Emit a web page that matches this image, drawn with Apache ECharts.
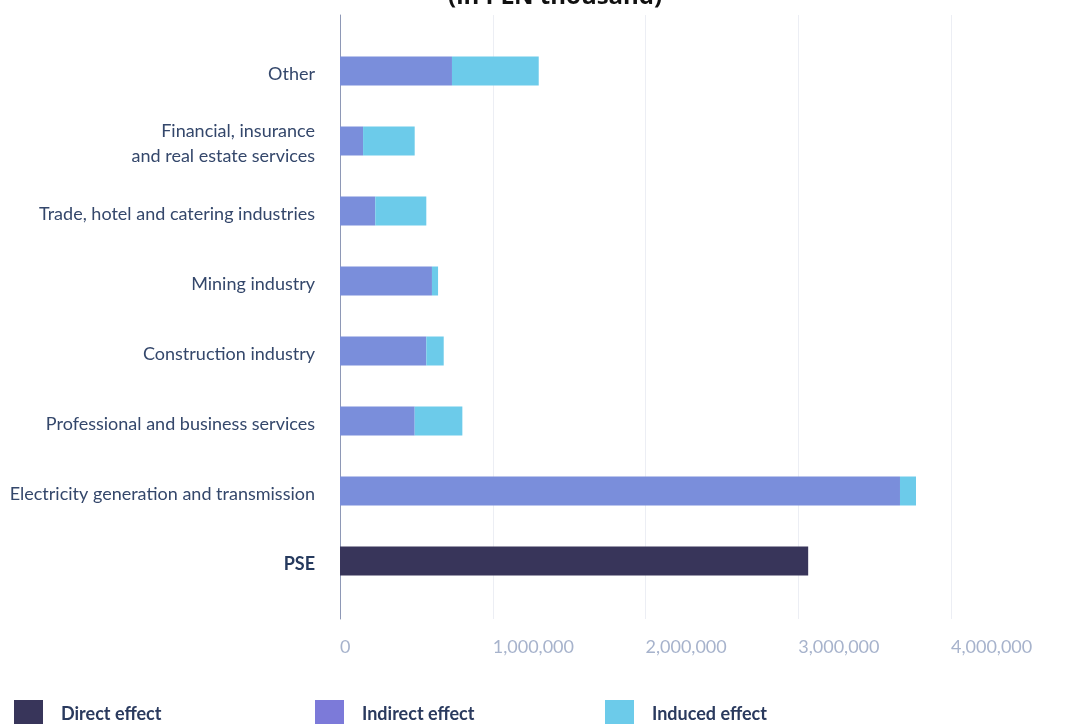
<!DOCTYPE html>
<html>
<head>
<meta charset="utf-8">
<title>Economic effects of PSE</title>
<script src="https://cdn.jsdelivr.net/npm/echarts@6/dist/echarts.min.js"></script>
<style>
  html, body { margin: 0; padding: 0; background: #ffffff; }
  #chart { width: 1091px; height: 724px; }
</style>
</head>
<body>
<div id="chart"></div>
<script>
// Sectors, listed top to bottom
const categories = [
  'Other',
  'Financial, insurance\nand real estate services',
  'Trade, hotel and catering industries',
  'Mining industry',
  'Construction industry',
  'Professional and business services',
  'Electricity generation and transmission',
  'PSE'
];

// Effects in PLN thousand
const directEffect   = [null, null, null, null, null, null, null, 3065000];
const indirectEffect = [733000, 151000, 231000, 602000, 565000, 489000, 3666000, null];
const inducedEffect  = [568000, 338000, 334000, 40000, 114000, 312000, 105000, null];

const xTicks = [0, 1000000, 2000000, 3000000, 4000000];
const seriesNames = ['Direct effect', 'Indirect effect', 'Induced effect'];

const colors = {
  direct: '#38355a',
  indirect: '#7a8edb',
  induced: '#6ccbea',
  legendIndirect: '#7c7ad9'
};

const labelFont = 'Lato, "Open Sans", sans-serif';
const fmt = v => v.toLocaleString('en-US');

const chart = echarts.init(document.getElementById('chart'), null, { renderer: 'canvas' });

function legendAt(left, name, color) {
  return {
    left: left,
    top: 700,
    padding: 0,
    icon: 'rect',
    itemWidth: 29,
    itemHeight: 29,
    itemGap: 0,
    selectedMode: false,
    data: [{ name: name, itemStyle: { color: color } }],
    textStyle: {
      fontFamily: labelFont,
      fontSize: 18,
      fontWeight: 'bold',
      color: '#2a3a5e',
      padding: [4, 0, 0, 13]
    }
  };
}

chart.setOption({
  animation: false,
  backgroundColor: '#ffffff',
  title: {
    text: '(in PLN thousand)',
    left: 448,
    top: -15,
    padding: 0,
    textStyle: {
      fontFamily: '"Open Sans", sans-serif',
      fontSize: 24,
      fontWeight: 'bold',
      color: '#111111'
    }
  },
  legend: [
    legendAt(14, seriesNames[0], colors.direct),
    legendAt(315, seriesNames[1], colors.legendIndirect),
    legendAt(605, seriesNames[2], colors.induced)
  ],
  grid: [
    // frame: gridlines, vertical axis line, tick labels
    { left: 340, right: 140, top: 15, height: 604 },
    // bars
    { left: 340, right: 140, top: 36, height: 560 }
  ],
  xAxis: [
    {
      gridIndex: 0,
      type: 'value',
      min: xTicks[0],
      max: xTicks[xTicks.length - 1],
      interval: xTicks[1] - xTicks[0],
      axisLine: { show: false },
      axisTick: { show: false },
      splitLine: { show: true, lineStyle: { color: '#eceef4', width: 1 } },
      axisLabel: {
        margin: 19,
        align: 'left',
        color: '#a7b3cc',
        fontFamily: labelFont,
        fontSize: 18,
        formatter: v => fmt(v)
      }
    },
    {
      gridIndex: 1,
      type: 'value',
      min: xTicks[0],
      max: xTicks[xTicks.length - 1],
      show: false
    }
  ],
  yAxis: [
    {
      gridIndex: 0,
      type: 'value',
      min: 0,
      max: 1,
      axisLine: { show: true, lineStyle: { color: '#8e98b6', width: 1 } },
      axisTick: { show: false },
      axisLabel: { show: false },
      splitLine: { show: false }
    },
    {
      gridIndex: 1,
      type: 'category',
      inverse: true,
      data: categories,
      axisLine: { show: false },
      axisTick: { show: false },
      axisLabel: {
        margin: 25,
        color: '#34476b',
        fontFamily: labelFont,
        fontSize: 18,
        lineHeight: 25,
        padding: [6, 0, 0, 0],
        formatter: v => v === 'PSE' ? '{b|' + v + '}' : v,
        rich: {
          b: { fontFamily: labelFont, fontSize: 18, fontWeight: 'bold', color: '#263a5e' }
        }
      }
    }
  ],
  series: [
    {
      name: seriesNames[0],
      type: 'bar',
      xAxisIndex: 1,
      yAxisIndex: 1,
      stack: 'effect',
      barWidth: 29,
      itemStyle: { color: colors.direct },
      data: directEffect
    },
    {
      name: seriesNames[1],
      type: 'bar',
      xAxisIndex: 1,
      yAxisIndex: 1,
      stack: 'effect',
      barWidth: 29,
      itemStyle: { color: colors.indirect },
      data: indirectEffect
    },
    {
      name: seriesNames[2],
      type: 'bar',
      xAxisIndex: 1,
      yAxisIndex: 1,
      stack: 'effect',
      barWidth: 29,
      itemStyle: { color: colors.induced },
      data: inducedEffect
    }
  ]
});
</script>
</body>
</html>
